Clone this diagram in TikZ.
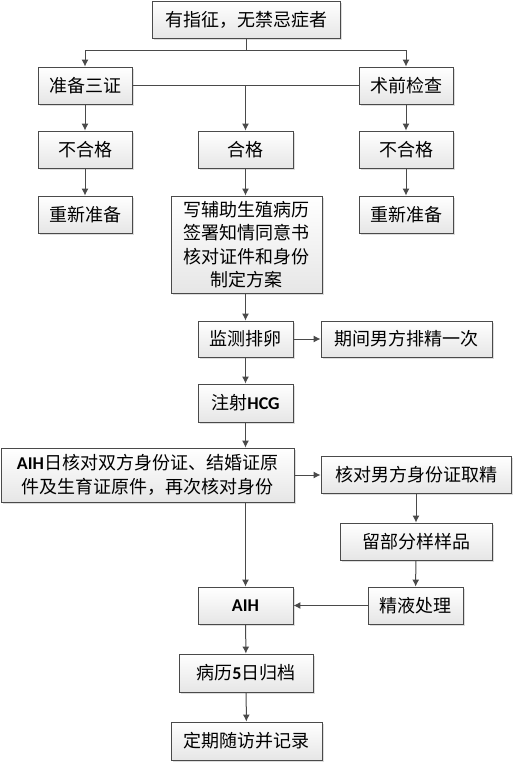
\documentclass[tikz,border=0pt]{standalone}
\usepackage{fontspec}
\setmainfont{Noto Sans CJK SC}
\newfontfamily\latb{Carlito}
\usetikzlibrary{arrows.meta,shadows,calc}
\definecolor{edge}{HTML}{4A4A4A}
\definecolor{boxbot}{HTML}{E6E6E6}
\newcommand{\lb}[1]{{\latb\bfseries #1}}
\begin{document}
\begin{tikzpicture}[x=1pt,y=-1pt,
  box/.style={draw=edge, line width=0.9pt, rectangle, top color=white, bottom color=boxbot,
    drop shadow={shadow xshift=2pt, shadow yshift=-2pt, fill=gray!45, opacity=0.6},
    inner sep=0pt, align=center, font=\fontsize{18}{23.5}\selectfont},
  conn/.style={draw=edge, line width=1pt},
  arr/.style={conn, -{Latex[length=7pt,width=7pt]}}]
\useasboundingbox (0,0) rectangle (513,763);
\node[box, minimum width=188pt, minimum height=37pt] (top) at (246,19.5) {有指征，无禁忌症者};
\node[box, minimum width=94pt, minimum height=37pt] (zb) at (85,85.5) {准备三证};
\node[box, minimum width=94pt, minimum height=37pt] (sq) at (406,85.5) {术前检查};
\node[box, minimum width=94pt, minimum height=37pt] (bhl) at (85,149.5) {不合格};
\node[box, minimum width=95pt, minimum height=37pt] (hg) at (245.5,149.5) {合格};
\node[box, minimum width=94pt, minimum height=37pt] (bhr) at (406,149.5) {不合格};
\node[box, minimum width=94pt, minimum height=37pt] (cxl) at (85,214.5) {重新准备};
\node[box, minimum width=94pt, minimum height=37pt] (cxr) at (406,214.5) {重新准备};
\node[box, minimum width=151pt, minimum height=97pt] (xie) at (246.5,244.5) {写辅助生殖病历\\签署知情同意书\\核对证件和身份\\制定方案};
\node[box, minimum width=95pt, minimum height=36pt] (jc) at (245.5,339) {监测排卵};
\node[box, minimum width=171pt, minimum height=36pt] (qj) at (406.5,339) {期间男方排精一次};
\node[box, minimum width=95pt, minimum height=38pt] (zs) at (245.5,403) {注射\lb{HCG}};
\node[box, minimum width=293pt, minimum height=54pt] (ad) at (147.5,475) {\lb{AIH}日核对双方身份证、结婚证原\\件及生育证原件，再次核对身份};
\node[box, minimum width=190pt, minimum height=37pt] (hd) at (416,474.5) {核对男方身份证取精};
\node[box, minimum width=152pt, minimum height=37pt] (liu) at (416,541.5) {留部分样样品};
\node[box, minimum width=95pt, minimum height=37pt] (jy) at (415.5,605.5) {精液处理};
\node[box, minimum width=95pt, minimum height=37pt] (aih) at (245.5,605.5) {\lb{AIH}};
\node[box, minimum width=134pt, minimum height=38pt] (bl) at (246,673) {病历\lb{5}日归档};
\node[box, minimum width=151pt, minimum height=38pt] (dq) at (246.5,741) {定期随访并记录};
\coordinate (br) at (246,50);
\draw[conn] (top.south) -- (br);
\draw[arr] (br) -| (zb.north);
\draw[arr] (br) -| (sq.north);
\draw[conn] (zb.east) -- (sq.west);
\draw[arr] (hg.north |- zb.east) -- (hg.north);
\draw[arr] (zb) -- (bhl);
\draw[arr] (bhl) -- (cxl);
\draw[arr] (sq) -- (bhr);
\draw[arr] (bhr) -- (cxr);
\draw[arr] (hg.south) -- (hg.south |- xie.north);
\draw[arr] (jc.north |- xie.south) -- (jc.north);
\draw[arr] (jc) -- (qj);
\draw[arr] (jc) -- (zs);
\draw[arr] (zs.south) -- (zs.south |- ad.north);
\draw[arr] (ad.east) -- (ad.east -| hd.west);
\draw[arr] (aih.north |- ad.south) -- (aih.north);
\draw[arr] (hd) -- (liu);
\draw[arr] (liu) -- (jy);
\draw[arr] (jy) -- (aih);
\draw[arr] (aih) -- (bl);
\draw[arr] (bl) -- (dq);
\end{tikzpicture}
\end{document}
